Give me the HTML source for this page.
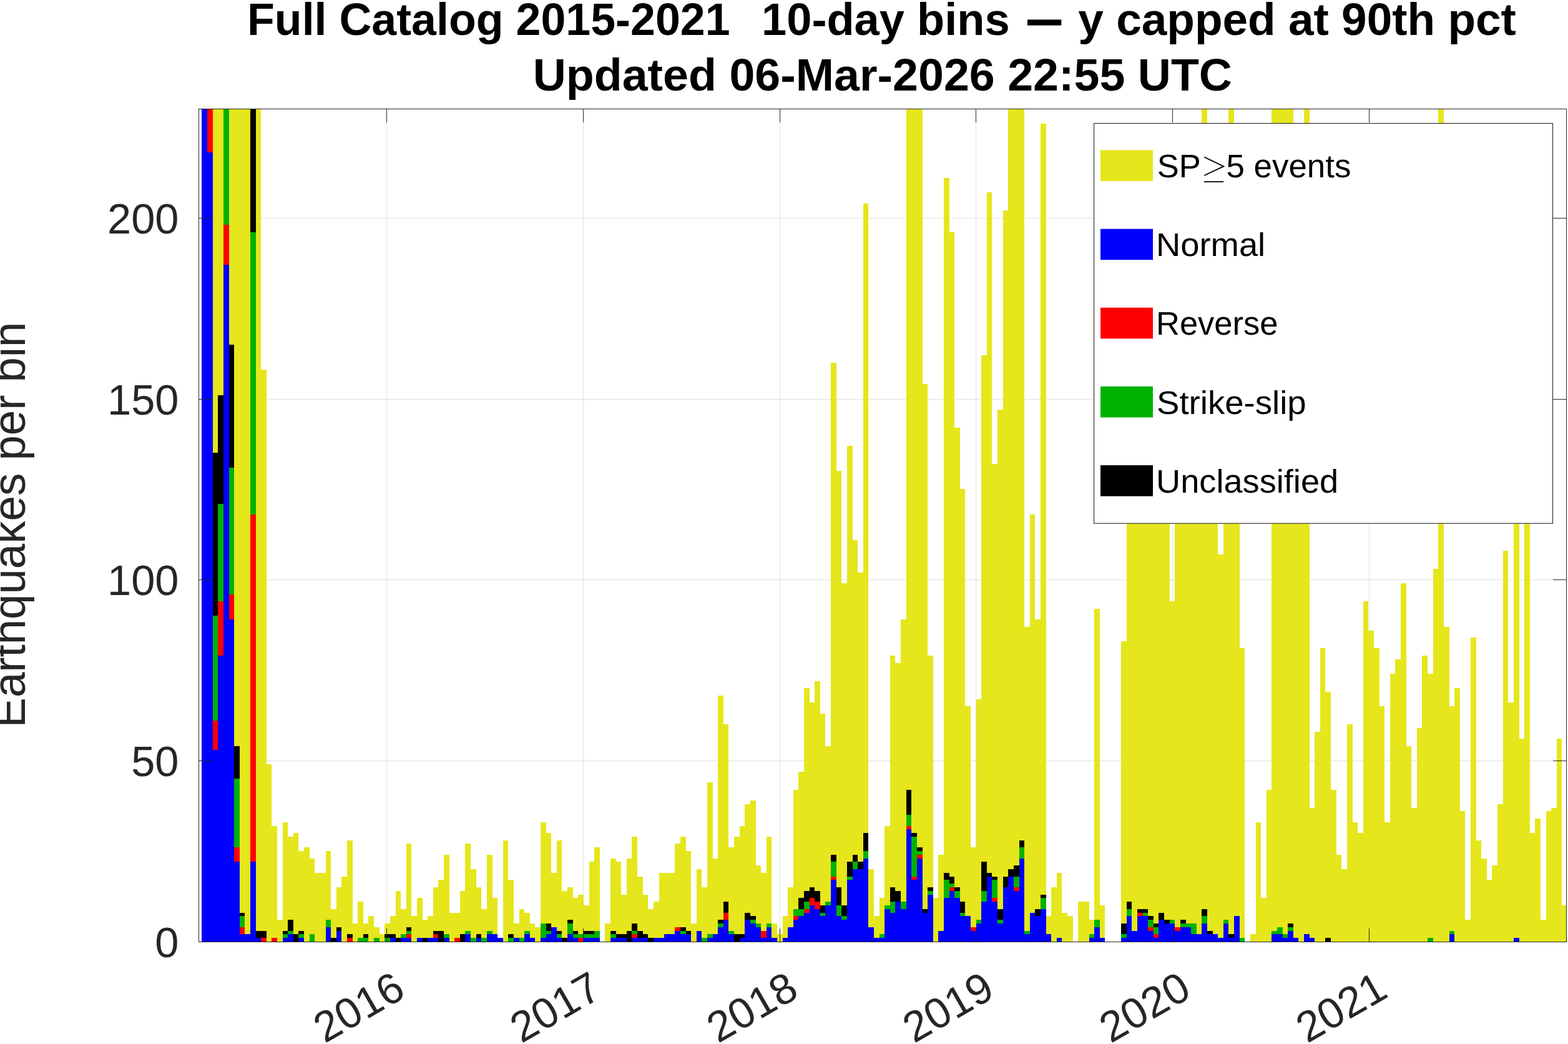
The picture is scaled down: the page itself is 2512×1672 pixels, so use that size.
<!DOCTYPE html>
<html><head><meta charset="utf-8"><title>Full Catalog 2015-2021</title>
<style>html,body{margin:0;padding:0;background:#fff;}body{width:2512px;height:1672px;overflow:hidden;}svg{display:block;}text{font-family:"Liberation Sans",sans-serif;}</style></head><body>
<svg width="2512" height="1672" viewBox="0 0 2512 1672">
<rect x="0" y="0" width="2512" height="1672" fill="#ffffff"/>
<g fill="#262626" fill-opacity="0.14" shape-rendering="crispEdges">
<rect x="619" y="175" width="1" height="1333"/>
<rect x="934" y="175" width="1" height="1333"/>
<rect x="1249" y="175" width="1" height="1333"/>
<rect x="1563" y="175" width="1" height="1333"/>
<rect x="1878" y="175" width="1" height="1333"/>
<rect x="2193" y="175" width="1" height="1333"/>
<rect x="319" y="1218" width="2190" height="1"/>
<rect x="319" y="928" width="2190" height="1"/>
<rect x="319" y="639" width="2190" height="1"/>
<rect x="319" y="349" width="2190" height="1"/>
</g>
<clipPath id="cp"><rect x="318" y="174" width="2192" height="1335"/></clipPath>
<g clip-path="url(#cp)" shape-rendering="crispEdges">
<path fill="#e6e61c" d="M323 174H332V1508H323ZM332 174H341V1508H332ZM341 174H349V1508H341ZM349 174H358V1508H349ZM358 174H367V1508H358ZM367 174H375V1508H367ZM375 174H384V1508H375ZM384 174H392V1508H384ZM392 174H401V1508H392ZM401 174H410V1508H401ZM410 174H418V1508H410ZM418 592H427V1508H418ZM427 1224H435V1508H427ZM435 1323H444V1508H435ZM444 1473H453V1508H444ZM453 1317H461V1508H453ZM461 1340H470V1508H461ZM470 1334H478V1508H470ZM478 1363H487V1508H478ZM487 1357H496V1508H487ZM496 1375H504V1508H496ZM504 1398H513V1508H504ZM513 1398H522V1508H513ZM522 1363H530V1508H522ZM530 1456H539V1508H530ZM539 1421H547V1508H539ZM547 1404H556V1508H547ZM556 1346H565V1508H556ZM565 1479H573V1508H565ZM573 1444H582V1508H573ZM582 1479H590V1508H582ZM590 1467H599V1508H590ZM599 1485H608V1508H599ZM608 1496H616V1508H608ZM616 1479H625V1508H616ZM625 1467H634V1508H625ZM634 1427H642V1508H634ZM642 1456H651V1508H642ZM651 1351H659V1508H651ZM659 1467H668V1508H659ZM668 1438H677V1508H668ZM677 1473H685V1508H677ZM685 1467H694V1508H685ZM694 1421H702V1508H694ZM702 1409H711V1508H702ZM711 1369H720V1508H711ZM720 1462H728V1508H720ZM728 1462H737V1508H728ZM737 1427H745V1508H737ZM745 1351H754V1508H745ZM754 1392H763V1508H754ZM763 1421H771V1508H763ZM771 1456H780V1508H771ZM780 1369H789V1508H780ZM789 1438H797V1508H789ZM797 1502H806V1508H797ZM806 1346H814V1508H806ZM814 1409H823V1508H814ZM823 1479H832V1508H823ZM832 1456H840V1508H832ZM840 1462H849V1508H840ZM849 1479H857V1508H849ZM857 1485H866V1508H857ZM866 1317H875V1508H866ZM875 1334H883V1508H875ZM883 1398H892V1508H883ZM892 1346H900V1508H892ZM900 1427H909V1508H900ZM909 1421H918V1508H909ZM918 1438H926V1508H918ZM926 1433H935V1508H926ZM935 1450H944V1508H935ZM944 1380H952V1508H944ZM952 1357H961V1508H952ZM969 1479H978V1508H969ZM978 1375H987V1508H978ZM987 1380H995V1508H987ZM995 1433H1004V1508H995ZM1004 1375H1012V1508H1004ZM1012 1340H1021V1508H1012ZM1021 1404H1030V1508H1021ZM1030 1433H1038V1508H1030ZM1038 1456H1047V1508H1038ZM1047 1444H1056V1508H1047ZM1056 1398H1064V1508H1056ZM1064 1398H1073V1508H1064ZM1073 1398H1081V1508H1073ZM1081 1351H1090V1508H1081ZM1090 1340H1099V1508H1090ZM1099 1363H1107V1508H1099ZM1107 1479H1116V1508H1107ZM1116 1392H1124V1508H1116ZM1124 1421H1133V1508H1124ZM1133 1253H1142V1508H1133ZM1142 1375H1150V1508H1142ZM1150 1114H1159V1508H1150ZM1159 1160H1167V1508H1159ZM1167 1357H1176V1508H1167ZM1176 1340H1185V1508H1176ZM1185 1323H1193V1508H1185ZM1193 1288H1202V1508H1193ZM1202 1282H1211V1508H1202ZM1211 1386H1219V1508H1211ZM1219 1398H1228V1508H1219ZM1228 1340H1236V1508H1228ZM1236 1479H1245V1508H1236ZM1245 1496H1254V1508H1245ZM1254 1467H1262V1508H1254ZM1262 1421H1271V1508H1262ZM1271 1265H1279V1508H1271ZM1279 1236H1288V1508H1279ZM1288 1102H1297V1508H1288ZM1297 1125H1305V1508H1297ZM1305 1091H1314V1508H1305ZM1314 1143H1322V1508H1314ZM1322 1195H1331V1508H1322ZM1331 581H1340V1508H1331ZM1340 754H1348V1508H1340ZM1348 934H1357V1508H1348ZM1357 714H1366V1508H1357ZM1366 865H1374V1508H1366ZM1374 917H1383V1508H1374ZM1383 326H1391V1508H1383ZM1391 1392H1400V1508H1391ZM1400 1467H1409V1508H1400ZM1409 1438H1417V1508H1409ZM1417 1323H1426V1508H1417ZM1426 1050H1434V1508H1426ZM1434 1062H1443V1508H1434ZM1443 992H1452V1508H1443ZM1452 174H1460V1508H1452ZM1460 174H1469V1508H1460ZM1469 174H1478V1508H1469ZM1478 615H1486V1508H1478ZM1486 1050H1495V1508H1486ZM1495 1438H1503V1508H1495ZM1503 1369H1512V1508H1503ZM1512 285H1521V1508H1512ZM1521 372H1529V1508H1521ZM1529 685H1538V1508H1529ZM1538 783H1546V1508H1538ZM1546 1131H1555V1508H1546ZM1555 1357H1564V1508H1555ZM1564 1120H1572V1508H1564ZM1572 569H1581V1508H1572ZM1581 308H1589V1508H1581ZM1589 743H1598V1508H1589ZM1598 656H1607V1508H1598ZM1607 337H1615V1508H1607ZM1615 174H1624V1508H1615ZM1624 174H1633V1508H1624ZM1633 174H1641V1508H1633ZM1641 1004H1650V1508H1641ZM1650 824H1658V1508H1650ZM1658 992H1667V1508H1658ZM1667 198H1676V1508H1667ZM1676 1467H1684V1508H1676ZM1684 1421H1693V1508H1684ZM1693 1398H1701V1508H1693ZM1701 1462H1710V1508H1701ZM1710 1467H1719V1508H1710ZM1727 1444H1736V1508H1727ZM1736 1444H1745V1508H1736ZM1745 1473H1753V1508H1745ZM1753 975H1762V1508H1753ZM1762 1450H1770V1508H1762ZM1796 1027H1805V1508H1796ZM1805 465H1813V1508H1805ZM1813 465H1822V1508H1813ZM1822 465H1831V1508H1822ZM1831 465H1839V1508H1831ZM1839 465H1848V1508H1839ZM1848 465H1856V1508H1848ZM1856 465H1865V1508H1856ZM1865 465H1874V1508H1865ZM1874 963H1882V1508H1874ZM1882 465H1891V1508H1882ZM1891 465H1900V1508H1891ZM1900 465H1908V1508H1900ZM1908 465H1917V1508H1908ZM1917 465H1925V1508H1917ZM1925 174H1934V1508H1925ZM1934 465H1943V1508H1934ZM1943 465H1951V1508H1943ZM1951 888H1960V1508H1951ZM1960 465H1968V1508H1960ZM1968 174H1977V1508H1968ZM1977 465H1986V1508H1977ZM1986 1038H1994V1508H1986ZM2003 1496H2012V1508H2003ZM2012 1317H2020V1508H2012ZM2020 1438H2029V1508H2020ZM2029 1265H2037V1508H2029ZM2037 174H2046V1508H2037ZM2046 174H2055V1508H2046ZM2055 174H2063V1508H2055ZM2063 174H2072V1508H2063ZM2072 465H2080V1508H2072ZM2080 465H2089V1508H2080ZM2089 174H2098V1508H2089ZM2098 1294H2106V1508H2098ZM2106 1172H2115V1508H2106ZM2115 1038H2123V1508H2115ZM2123 1108H2132V1508H2123ZM2132 1265H2141V1508H2132ZM2141 1369H2149V1508H2141ZM2149 1392H2158V1508H2149ZM2158 1160H2167V1508H2158ZM2167 1317H2175V1508H2167ZM2175 1334H2184V1508H2175ZM2184 963H2192V1508H2184ZM2192 1010H2201V1508H2192ZM2201 1038H2210V1508H2201ZM2210 1131H2218V1508H2210ZM2218 1317H2227V1508H2218ZM2227 1079H2235V1508H2227ZM2235 1056H2244V1508H2235ZM2244 934H2253V1508H2244ZM2253 1195H2261V1508H2253ZM2261 1294H2270V1508H2261ZM2270 1166H2278V1508H2270ZM2278 1050H2287V1508H2278ZM2287 1079H2296V1508H2287ZM2296 911H2304V1508H2296ZM2304 174H2313V1508H2304ZM2313 1004H2322V1508H2313ZM2322 1131H2330V1508H2322ZM2330 1102H2339V1508H2330ZM2339 1299H2347V1508H2339ZM2347 1473H2356V1508H2347ZM2356 1021H2365V1508H2356ZM2365 1346H2373V1508H2365ZM2373 1375H2382V1508H2373ZM2382 1409H2390V1508H2382ZM2390 1386H2399V1508H2390ZM2399 1288H2408V1508H2399ZM2408 882H2416V1508H2408ZM2416 1125H2425V1508H2416ZM2425 465H2434V1508H2425ZM2434 1183H2442V1508H2434ZM2442 465H2451V1508H2442ZM2451 1334H2459V1508H2451ZM2459 1311H2468V1508H2459ZM2468 1473H2477V1508H2468ZM2477 1299H2485V1508H2477ZM2485 1294H2494V1508H2485ZM2494 1183H2502V1508H2494ZM2502 1450H2510V1508H2502Z"/>
<path fill="#0000ff" d="M323 174H332V1508H323ZM332 244H341V1508H332ZM341 1201H349V1508H341ZM349 1050H358V1508H349ZM358 424H367V1508H358ZM367 992H375V1508H367ZM375 1380H384V1508H375ZM384 1496H392V1508H384ZM392 1496H401V1508H392ZM401 1380H410V1508H401ZM410 1502H418V1508H410ZM453 1502H461V1508H453ZM461 1496H470V1508H461ZM478 1502H487V1508H478ZM522 1485H530V1508H522ZM539 1491H547V1508H539ZM625 1502H634V1508H625ZM642 1502H651V1508H642ZM651 1502H659V1508H651ZM668 1502H677V1508H668ZM685 1502H694V1508H685ZM694 1502H702V1508H694ZM711 1502H720V1508H711ZM745 1496H754V1508H745ZM763 1502H771V1508H763ZM780 1496H789V1508H780ZM789 1496H797V1508H789ZM797 1502H806V1508H797ZM823 1502H832V1508H823ZM840 1496H849V1508H840ZM849 1502H857V1508H849ZM866 1502H875V1508H866ZM875 1496H883V1508H875ZM883 1485H892V1508H883ZM892 1502H900V1508H892ZM909 1496H918V1508H909ZM918 1502H926V1508H918ZM935 1502H944V1508H935ZM944 1502H952V1508H944ZM952 1502H961V1508H952ZM978 1502H987V1508H978ZM987 1502H995V1508H987ZM995 1502H1004V1508H995ZM1012 1502H1021V1508H1012ZM1021 1502H1030V1508H1021ZM1030 1502H1038V1508H1030ZM1047 1502H1056V1508H1047ZM1056 1502H1064V1508H1056ZM1064 1496H1073V1508H1064ZM1073 1496H1081V1508H1073ZM1081 1491H1090V1508H1081ZM1090 1496H1099V1508H1090ZM1099 1496H1107V1508H1099ZM1116 1491H1124V1508H1116ZM1133 1502H1142V1508H1133ZM1142 1496H1150V1508H1142ZM1150 1485H1159V1508H1150ZM1159 1473H1167V1508H1159ZM1167 1496H1176V1508H1167ZM1185 1502H1193V1508H1185ZM1193 1473H1202V1508H1193ZM1202 1479H1211V1508H1202ZM1211 1485H1219V1508H1211ZM1219 1502H1228V1508H1219ZM1228 1485H1236V1508H1228ZM1236 1502H1245V1508H1236ZM1254 1502H1262V1508H1254ZM1262 1485H1271V1508H1262ZM1271 1473H1279V1508H1271ZM1279 1467H1288V1508H1279ZM1288 1462H1297V1508H1288ZM1297 1450H1305V1508H1297ZM1305 1456H1314V1508H1305ZM1314 1467H1322V1508H1314ZM1322 1450H1331V1508H1322ZM1331 1409H1340V1508H1331ZM1340 1467H1348V1508H1340ZM1348 1473H1357V1508H1348ZM1357 1409H1366V1508H1357ZM1366 1392H1374V1508H1366ZM1374 1392H1383V1508H1374ZM1383 1375H1391V1508H1383ZM1391 1485H1400V1508H1391ZM1400 1502H1409V1508H1400ZM1409 1502H1417V1508H1409ZM1417 1456H1426V1508H1417ZM1426 1462H1434V1508H1426ZM1434 1444H1443V1508H1434ZM1443 1456H1452V1508H1443ZM1452 1328H1460V1508H1452ZM1460 1409H1469V1508H1460ZM1469 1375H1478V1508H1469ZM1478 1462H1486V1508H1478ZM1486 1433H1495V1508H1486ZM1503 1491H1512V1508H1503ZM1512 1438H1521V1508H1512ZM1521 1427H1529V1508H1521ZM1529 1438H1538V1508H1529ZM1538 1467H1546V1508H1538ZM1546 1467H1555V1508H1546ZM1555 1491H1564V1508H1555ZM1564 1479H1572V1508H1564ZM1572 1444H1581V1508H1572ZM1581 1404H1589V1508H1581ZM1589 1444H1598V1508H1589ZM1598 1479H1607V1508H1598ZM1607 1421H1615V1508H1607ZM1615 1404H1624V1508H1615ZM1624 1427H1633V1508H1624ZM1633 1375H1641V1508H1633ZM1641 1496H1650V1508H1641ZM1650 1462H1658V1508H1650ZM1658 1467H1667V1508H1658ZM1667 1456H1676V1508H1667ZM1676 1496H1684V1508H1676ZM1693 1502H1701V1508H1693ZM1745 1502H1753V1508H1745ZM1753 1485H1762V1508H1753ZM1762 1502H1770V1508H1762ZM1796 1502H1805V1508H1796ZM1805 1467H1813V1508H1805ZM1813 1491H1822V1508H1813ZM1822 1467H1831V1508H1822ZM1831 1467H1839V1508H1831ZM1839 1491H1848V1508H1839ZM1848 1502H1856V1508H1848ZM1856 1473H1865V1508H1856ZM1865 1479H1874V1508H1865ZM1874 1479H1882V1508H1874ZM1882 1491H1891V1508H1882ZM1891 1485H1900V1508H1891ZM1900 1485H1908V1508H1900ZM1908 1496H1917V1508H1908ZM1917 1496H1925V1508H1917ZM1925 1479H1934V1508H1925ZM1934 1496H1943V1508H1934ZM1943 1496H1951V1508H1943ZM1951 1502H1960V1508H1951ZM1960 1479H1968V1508H1960ZM1968 1502H1977V1508H1968ZM1977 1467H1986V1508H1977ZM2037 1496H2046V1508H2037ZM2046 1496H2055V1508H2046ZM2055 1502H2063V1508H2055ZM2063 1491H2072V1508H2063ZM2072 1502H2080V1508H2072ZM2089 1496H2098V1508H2089ZM2098 1502H2106V1508H2098ZM2322 1496H2330V1508H2322ZM2425 1502H2434V1508H2425Z"/>
<path fill="#ff0000" d="M332 174H341V244H332ZM341 1154H349V1201H341ZM349 963H358V1050H349ZM358 360H367V424H358ZM367 952H375V992H367ZM375 1357H384V1380H375ZM384 1485H392V1496H384ZM401 824H410V1380H401ZM418 1502H427V1508H418ZM435 1502H444V1508H435ZM556 1502H565V1508H556ZM651 1496H659V1502H651ZM694 1496H702V1502H694ZM728 1502H737V1508H728ZM926 1502H935V1508H926ZM1012 1496H1021V1502H1012ZM1081 1485H1090V1491H1081ZM1159 1462H1167V1473H1159ZM1219 1491H1228V1502H1219ZM1271 1467H1279V1473H1271ZM1288 1456H1297V1462H1288ZM1297 1438H1305V1450H1297ZM1305 1444H1314V1456H1305ZM1331 1404H1340V1409H1331ZM1452 1323H1460V1328H1452ZM1460 1404H1469V1409H1460ZM1469 1369H1478V1375H1469ZM1521 1421H1529V1427H1521ZM1555 1485H1564V1491H1555ZM1589 1438H1598V1444H1589ZM1624 1421H1633V1427H1624ZM1822 1462H1831V1467H1822ZM1839 1485H1848V1491H1839ZM1848 1496H1856V1502H1848ZM1882 1485H1891V1491H1882Z"/>
<path fill="#00b200" d="M341 986H349V1154H341ZM349 807H358V963H349ZM358 174H367V360H358ZM367 749H375V952H367ZM375 1247H384V1357H375ZM384 1467H392V1485H384ZM401 372H410V824H401ZM453 1496H461V1502H453ZM461 1491H470V1496H461ZM478 1496H487V1502H478ZM496 1496H504V1508H496ZM522 1473H530V1485H522ZM573 1502H582V1508H573ZM582 1502H590V1508H582ZM599 1502H608V1508H599ZM616 1502H625V1508H616ZM642 1496H651V1502H642ZM651 1491H659V1496H651ZM711 1496H720V1502H711ZM745 1491H754V1496H745ZM754 1502H763V1508H754ZM771 1502H780V1508H771ZM780 1491H789V1496H780ZM814 1502H823V1508H814ZM832 1502H840V1508H832ZM840 1491H849V1496H840ZM866 1479H875V1502H866ZM875 1491H883V1496H875ZM892 1496H900V1502H892ZM909 1479H918V1496H909ZM918 1496H926V1502H918ZM926 1496H935V1502H926ZM935 1496H944V1502H935ZM944 1496H952V1502H944ZM952 1491H961V1502H952ZM978 1496H987V1502H978ZM1012 1491H1021V1496H1012ZM1090 1491H1099V1496H1090ZM1124 1502H1133V1508H1124ZM1133 1496H1142V1502H1133ZM1150 1479H1159V1485H1150ZM1167 1491H1176V1496H1167ZM1202 1473H1211V1479H1202ZM1211 1479H1219V1485H1211ZM1228 1479H1236V1485H1228ZM1271 1456H1279V1467H1271ZM1279 1456H1288V1467H1279ZM1288 1444H1297V1456H1288ZM1314 1462H1322V1467H1314ZM1322 1444H1331V1450H1322ZM1331 1380H1340V1404H1331ZM1340 1450H1348V1467H1340ZM1348 1467H1357V1473H1348ZM1357 1404H1366V1409H1357ZM1366 1380H1374V1392H1366ZM1383 1363H1391V1375H1383ZM1409 1496H1417V1502H1409ZM1417 1450H1426V1456H1417ZM1426 1444H1434V1462H1426ZM1443 1444H1452V1456H1443ZM1452 1305H1460V1323H1452ZM1460 1340H1469V1404H1460ZM1469 1363H1478V1369H1469ZM1486 1427H1495V1433H1486ZM1512 1409H1521V1438H1512ZM1521 1415H1529V1421H1521ZM1529 1427H1538V1438H1529ZM1538 1462H1546V1467H1538ZM1564 1473H1572V1479H1564ZM1572 1427H1581V1444H1572ZM1589 1409H1598V1438H1589ZM1598 1473H1607V1479H1598ZM1624 1404H1633V1421H1624ZM1633 1357H1641V1375H1633ZM1641 1491H1650V1496H1641ZM1667 1438H1676V1456H1667ZM1745 1496H1753V1502H1745ZM1753 1473H1762V1485H1753ZM1796 1496H1805V1502H1796ZM1805 1456H1813V1467H1805ZM1831 1462H1839V1467H1831ZM1839 1473H1848V1485H1839ZM1848 1485H1856V1496H1848ZM1874 1473H1882V1479H1874ZM1891 1479H1900V1485H1891ZM1900 1479H1908V1485H1900ZM1908 1479H1917V1496H1908ZM1925 1467H1934V1479H1925ZM1960 1473H1968V1479H1960ZM1986 1502H1994V1508H1986ZM2037 1491H2046V1496H2037ZM2046 1485H2055V1496H2046ZM2055 1496H2063V1502H2055ZM2063 1485H2072V1491H2063ZM2287 1502H2296V1508H2287ZM2322 1491H2330V1496H2322Z"/>
<path fill="#000000" d="M341 725H349V986H341ZM349 633H358V807H349ZM367 552H375V749H367ZM375 1195H384V1247H375ZM384 1462H392V1467H384ZM401 174H410V372H401ZM410 1491H418V1502H410ZM418 1491H427V1502H418ZM453 1491H461V1496H453ZM461 1473H470V1491H461ZM470 1496H478V1508H470ZM478 1491H487V1496H478ZM530 1502H539V1508H530ZM539 1485H547V1491H539ZM556 1496H565V1502H556ZM582 1496H590V1502H582ZM616 1496H625V1502H616ZM625 1496H634V1502H625ZM634 1502H642V1508H634ZM651 1485H659V1491H651ZM677 1502H685V1508H677ZM694 1491H702V1496H694ZM702 1491H711V1508H702ZM737 1496H745V1508H737ZM763 1496H771V1502H763ZM814 1496H823V1502H814ZM875 1479H883V1491H875ZM892 1491H900V1496H892ZM900 1502H909V1508H900ZM909 1473H918V1479H909ZM918 1491H926V1496H918ZM935 1491H944V1496H935ZM944 1491H952V1496H944ZM978 1491H987V1496H978ZM987 1496H995V1502H987ZM995 1496H1004V1502H995ZM1004 1491H1012V1508H1004ZM1012 1479H1021V1491H1012ZM1021 1491H1030V1502H1021ZM1030 1496H1038V1502H1030ZM1038 1502H1047V1508H1038ZM1090 1485H1099V1491H1090ZM1099 1491H1107V1496H1099ZM1150 1473H1159V1479H1150ZM1159 1444H1167V1462H1159ZM1176 1496H1185V1508H1176ZM1185 1496H1193V1502H1185ZM1193 1462H1202V1473H1193ZM1202 1467H1211V1473H1202ZM1279 1438H1288V1456H1279ZM1288 1427H1297V1444H1288ZM1297 1421H1305V1438H1297ZM1305 1427H1314V1444H1305ZM1314 1450H1322V1462H1314ZM1331 1369H1340V1380H1331ZM1340 1421H1348V1450H1340ZM1348 1450H1357V1467H1348ZM1357 1380H1366V1404H1357ZM1366 1369H1374V1380H1366ZM1374 1380H1383V1392H1374ZM1383 1334H1391V1363H1383ZM1426 1421H1434V1444H1426ZM1434 1427H1443V1444H1434ZM1452 1265H1460V1305H1452ZM1460 1334H1469V1340H1460ZM1469 1357H1478V1363H1469ZM1478 1456H1486V1462H1478ZM1486 1421H1495V1427H1486ZM1512 1398H1521V1409H1512ZM1521 1404H1529V1415H1521ZM1529 1421H1538V1427H1529ZM1538 1444H1546V1462H1538ZM1572 1380H1581V1427H1572ZM1581 1398H1589V1404H1581ZM1589 1404H1598V1409H1589ZM1598 1456H1607V1473H1598ZM1607 1404H1615V1421H1607ZM1615 1392H1624V1404H1615ZM1624 1386H1633V1404H1624ZM1633 1346H1641V1357H1633ZM1658 1456H1667V1467H1658ZM1667 1433H1676V1438H1667ZM1796 1479H1805V1496H1796ZM1805 1444H1813V1456H1805ZM1822 1456H1831V1462H1822ZM1831 1456H1839V1462H1831ZM1839 1467H1848V1473H1839ZM1848 1479H1856V1485H1848ZM1856 1462H1865V1473H1856ZM1865 1473H1874V1479H1865ZM1891 1473H1900V1479H1891ZM1925 1456H1934V1467H1925ZM1934 1491H1943V1496H1934ZM1968 1496H1977V1502H1968ZM2063 1479H2072V1485H2063ZM2123 1502H2132V1508H2123Z"/>
</g>
<g fill="#262626" shape-rendering="crispEdges">
<rect x="318" y="174" width="2192" height="1"/>
<rect x="318" y="1508" width="2192" height="1"/>
<rect x="318" y="174" width="1" height="1335"/>
<rect x="2509" y="174" width="1" height="1335"/>
<rect x="619" y="1487" width="1" height="21"/>
<rect x="619" y="175" width="1" height="21"/>
<rect x="934" y="1487" width="1" height="21"/>
<rect x="934" y="175" width="1" height="21"/>
<rect x="1249" y="1487" width="1" height="21"/>
<rect x="1249" y="175" width="1" height="21"/>
<rect x="1563" y="1487" width="1" height="21"/>
<rect x="1563" y="175" width="1" height="21"/>
<rect x="1878" y="1487" width="1" height="21"/>
<rect x="1878" y="175" width="1" height="21"/>
<rect x="2193" y="1487" width="1" height="21"/>
<rect x="2193" y="175" width="1" height="21"/>
<rect x="319" y="1218" width="21" height="1"/>
<rect x="2488" y="1218" width="21" height="1"/>
<rect x="319" y="928" width="21" height="1"/>
<rect x="2488" y="928" width="21" height="1"/>
<rect x="319" y="639" width="21" height="1"/>
<rect x="2488" y="639" width="21" height="1"/>
<rect x="319" y="349" width="21" height="1"/>
<rect x="2488" y="349" width="21" height="1"/>
</g>
<g fill="#262626" font-size="68.6px" text-anchor="end">
<text x="286.5" y="1533.2">0</text>
<text x="286.5" y="1243.2">50</text>
<text x="286.5" y="953.2">100</text>
<text x="286.5" y="664.2">150</text>
<text x="286.5" y="374.2">200</text>
<text transform="translate(652.5 1595.2) rotate(-30)">2016</text>
<text transform="translate(967.5 1595.2) rotate(-30)">2017</text>
<text transform="translate(1282.5 1595.2) rotate(-30)">2018</text>
<text transform="translate(1596.5 1595.2) rotate(-30)">2019</text>
<text transform="translate(1911.5 1595.2) rotate(-30)">2020</text>
<text transform="translate(2226.5 1595.2) rotate(-30)">2021</text>
</g>
<text transform="translate(39.6 840.5) rotate(-90)" text-anchor="middle" font-size="73.70px" fill="#262626" textLength="650.0" lengthAdjust="spacingAndGlyphs">Earthquakes per bin</text>
<g fill="#000" font-weight="bold" font-size="73.00px">
<text x="396.00" y="56.00" textLength="773.60" lengthAdjust="spacingAndGlyphs">Full Catalog 2015-2021</text>
<text x="1220.00" y="56.00" textLength="397.70" lengthAdjust="spacingAndGlyphs">10-day bins</text>
<text x="1727.30" y="56.00" textLength="701.60" lengthAdjust="spacingAndGlyphs">y capped at 90th pct</text>
<text x="853.70" y="145.30" textLength="1120.30" lengthAdjust="spacingAndGlyphs">Updated 06-Mar-2026 22:55 UTC</text>
<rect x="1646" y="31.4" width="54.3" height="9.3"/>
</g>
<rect x="1752.6" y="197.6" width="734.9" height="640.6" fill="#fff" stroke="#262626" stroke-width="1.1"/>
<g font-size="52.70px" fill="#000">
<rect x="1763" y="240.4" width="84" height="49.6" fill="#e6e61c"/>
<text x="1853.80" y="284.1" textLength="70.00" lengthAdjust="spacingAndGlyphs">SP</text>
<text x="1964.50" y="284.1" textLength="199.90" lengthAdjust="spacingAndGlyphs">5 events</text>
<path d="M1929.2 251.5L1960.3 266.4L1929.2 281.0M1928.8 291.1H1960.3" fill="none" stroke="#000" stroke-width="1.9" stroke-linejoin="miter"/>
<rect x="1763" y="366.6" width="84" height="49.6" fill="#0000ff"/>
<text x="1852.00" y="410.3" textLength="175.20" lengthAdjust="spacingAndGlyphs">Normal</text>
<rect x="1763" y="492.7" width="84" height="49.6" fill="#ff0000"/>
<text x="1852.00" y="536.4" textLength="195.40" lengthAdjust="spacingAndGlyphs">Reverse</text>
<rect x="1763" y="618.9" width="84" height="49.6" fill="#00b200"/>
<text x="1853.00" y="662.6" textLength="239.70" lengthAdjust="spacingAndGlyphs">Strike-slip</text>
<rect x="1763" y="745.1" width="84" height="49.6" fill="#000000"/>
<text x="1852.00" y="788.8" textLength="292.20" lengthAdjust="spacingAndGlyphs">Unclassified</text>
</g>
</svg></body></html>
